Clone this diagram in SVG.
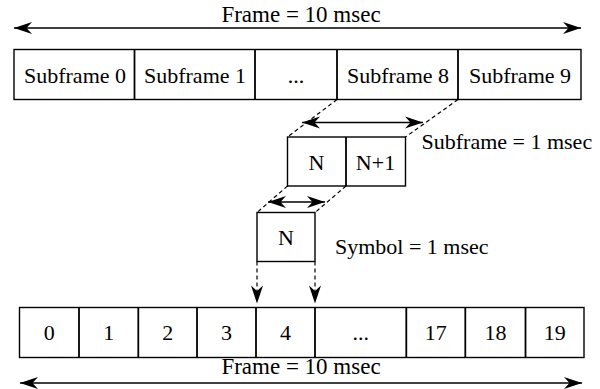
<svg xmlns="http://www.w3.org/2000/svg" width="600" height="389" viewBox="0 0 600 389">
  <style>
    .box { fill: #fff; stroke: #000; stroke-width: 1.4; }
    .div { stroke: #000; stroke-width: 1.8; }
    .lbl { font-family: "Liberation Serif", "Times New Roman", serif; font-size: 22px; fill: #000; }
    .ttl { font-size: 23px; }
    .mid { text-anchor: middle; }
    .span { stroke: #000; stroke-width: 1.4; fill: none; marker-start: url(#head); marker-end: url(#head); }
    .dash { stroke: #000; stroke-width: 1.2; fill: none; stroke-dasharray: 4 3; }
    .drop { marker-end: url(#head); }
  </style>
  <defs>
    <marker id="head" markerUnits="userSpaceOnUse" viewBox="-19 -7 20 14" refX="0" refY="0" markerWidth="20" markerHeight="14" orient="auto-start-reverse">
      <path d="M0,0 L-18,-6 L-12.5,0 L-18,6 Z" fill="#000"/>
    </marker>
  </defs>

  <!-- frame span, top -->
  <g id="frame-top">
    <text class="lbl ttl mid" x="301" y="21.5">Frame = 10 msec</text>
    <line class="span" x1="14" y1="28" x2="581" y2="28"/>
  </g>

  <!-- ten subframes -->
  <g id="subframes">
    <rect class="box" x="14" y="49.5" width="567" height="50"/>
    <line class="div" x1="134.5" y1="49.5" x2="134.5" y2="99.5"/>
    <line class="div" x1="255" y1="49.5" x2="255" y2="99.5"/>
    <line class="div" x1="337" y1="49.5" x2="337" y2="99.5"/>
    <line class="div" x1="458" y1="49.5" x2="458" y2="99.5"/>
    <text class="lbl mid" x="75" y="82.5">Subframe 0</text>
    <text class="lbl mid" x="195" y="82.5">Subframe 1</text>
    <text class="lbl mid" x="296" y="82.5">...</text>
    <text class="lbl mid" x="398" y="82.5">Subframe 8</text>
    <text class="lbl mid" x="520" y="82.5">Subframe 9</text>
  </g>

  <!-- one subframe: two symbols -->
  <g id="subframe-detail">
    <rect class="box" x="287.5" y="137" width="118" height="49"/>
    <line class="div" x1="346" y1="137" x2="346" y2="186"/>
    <text class="lbl mid" x="316.5" y="169.5">N</text>
    <text class="lbl mid" x="375.5" y="169.5">N+1</text>
    <text class="lbl" x="421.5" y="148.5">Subframe = 1 msec</text>
  </g>

  <!-- one symbol -->
  <g id="symbol">
    <rect class="box" x="257" y="212.5" width="58" height="49"/>
    <text class="lbl mid" x="286" y="245">N</text>
    <text class="lbl" x="335" y="253.5">Symbol = 1 msec</text>
  </g>

  <!-- twenty slots -->
  <g id="slots">
    <rect class="box" x="19.5" y="307.5" width="564.5" height="50"/>
    <line class="div" x1="79" y1="307.5" x2="79" y2="357.5"/>
    <line class="div" x1="138.3" y1="307.5" x2="138.3" y2="357.5"/>
    <line class="div" x1="197" y1="307.5" x2="197" y2="357.5"/>
    <line class="div" x1="256" y1="307.5" x2="256" y2="357.5"/>
    <line class="div" x1="315" y1="307.5" x2="315" y2="357.5"/>
    <line class="div" x1="406.3" y1="307.5" x2="406.3" y2="357.5"/>
    <line class="div" x1="465.3" y1="307.5" x2="465.3" y2="357.5"/>
    <line class="div" x1="525.5" y1="307.5" x2="525.5" y2="357.5"/>
    <text class="lbl mid" x="49.3" y="340">0</text>
    <text class="lbl mid" x="108.7" y="340">1</text>
    <text class="lbl mid" x="167.7" y="340">2</text>
    <text class="lbl mid" x="226.5" y="340">3</text>
    <text class="lbl mid" x="285.5" y="340">4</text>
    <text class="lbl mid" x="360.7" y="340">...</text>
    <text class="lbl mid" x="435.8" y="340">17</text>
    <text class="lbl mid" x="495.4" y="340">18</text>
    <text class="lbl mid" x="554.8" y="340">19</text>
  </g>

  <!-- frame span, bottom -->
  <g id="frame-bottom">
    <text class="lbl ttl mid" x="301" y="373.5">Frame = 10 msec</text>
    <line class="span" x1="20" y1="383" x2="582" y2="383"/>
  </g>

  <!-- connectors: zoom guides and span arrows -->
  <g id="connectors">
    <line class="dash" x1="337" y1="99.5" x2="287.5" y2="137"/>
    <line class="dash" x1="458" y1="99.5" x2="405.5" y2="137"/>
    <line class="span" x1="302" y1="122.5" x2="423" y2="122.5"/>
    <line class="dash" x1="287.5" y1="186" x2="257" y2="212.5"/>
    <line class="dash" x1="346" y1="186" x2="315" y2="212.5"/>
    <line class="span" x1="268" y1="202" x2="325" y2="202"/>
    <line class="dash drop" x1="257" y1="261.5" x2="257" y2="303.5"/>
    <line class="dash drop" x1="315" y1="261.5" x2="315" y2="303.5"/>
  </g>
</svg>
